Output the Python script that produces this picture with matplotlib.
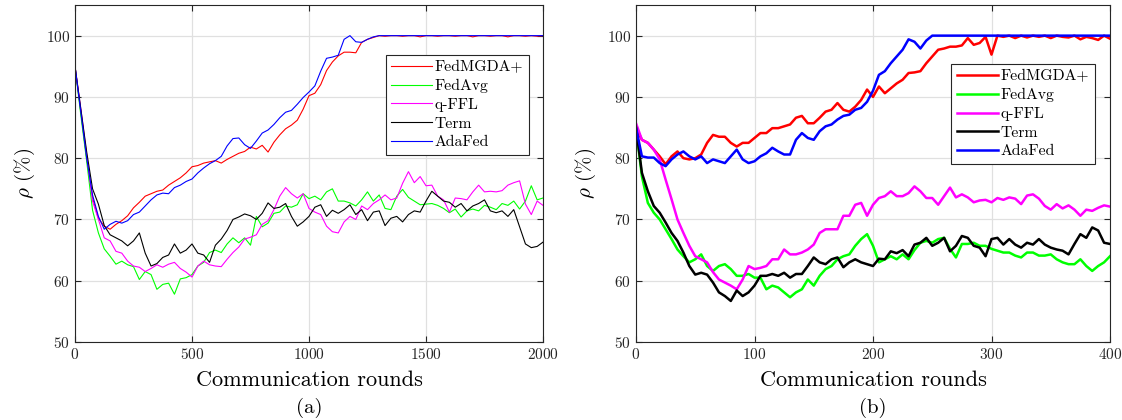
import numpy as np
import matplotlib
matplotlib.use("Agg")
import matplotlib.pyplot as plt

plt.rcParams["font.family"] = ["cmr10", "DejaVu Serif"]
plt.rcParams["mathtext.fontset"] = "cm"
plt.rcParams["axes.formatter.use_mathtext"] = True

labels = ["FedMGDA+", "FedAvg", "q-FFL", "Term", "AdaFed"]
colors = ["#ff0000", "#00ff00", "#ff00ff", "#000000", "#0000ff"]

# (a) 2000 rounds, values read every 25 rounds
rounds_a = np.arange(0, 2001, 25)
fedmgda_a = [95, 87.5, 80, 73.5, 70.2, 68.9, 68.4, 69.2, 69.8, 70.6, 71.9, 72.8, 73.8, 74.2, 74.6, 74.8,
             75.6, 76.2, 76.8, 77.6, 78.6, 78.8, 79.2, 79.4, 79.6, 79.2, 79.8, 80.3, 80.8, 81.1, 81.8, 81.5,
             82.1, 81.0, 82.6, 83.8, 84.8, 85.4, 86.2, 88.0, 90.2, 90.6, 92.0, 94.3, 95.7, 96.7, 97.3, 97.3,
             97.2, 98.9, 99.4, 99.7, 100, 99.9, 100, 100, 99.9, 100, 100, 99.8, 100, 100, 99.9, 100, 100, 99.9,
             100, 100, 99.8, 100, 100, 99.9, 100, 100, 99.8, 100, 100, 99.9, 100, 99.9, 100]
fedavg_a = [95, 87, 79.5, 71.5, 67.8, 65.2, 64, 62.7, 63.2, 62.6, 62.3, 60.2, 61.5, 61, 58.6, 59.4,
            59.6, 57.8, 60.3, 60.5, 61, 62.4, 63, 64.6, 65, 64.6, 66, 67, 66.2, 67, 65.8, 70.5,
            68.8, 69.4, 71, 71.2, 72.2, 72, 72.4, 74.2, 73.4, 73.8, 73.2, 74.5, 75, 73, 73, 72.7,
            72.2, 73.2, 74.5, 73, 74, 71.8, 71.6, 73.8, 74.9, 73.6, 73, 72.4, 72.5, 72.6, 72.3, 71.8,
            71.1, 71.7, 70.4, 71.4, 71.7, 71.4, 72.3, 72, 71.6, 72.6, 72.3, 73, 71.7, 73, 75.5, 73.2, 73.5]
qffl_a = [95, 88, 80.5, 73, 70, 67, 66.5, 64.8, 64.5, 63.2, 62.4, 62.2, 61.5, 62, 62.6, 62.2,
          62.7, 63, 62, 61.4, 60.6, 62.4, 63.2, 62.6, 62.4, 62.3, 63.5, 64.6, 65.5, 66.8, 67.1, 67.5,
          69.2, 69.8, 71.6, 73.8, 75.2, 74.2, 73.5, 74.2, 71.8, 71.2, 70.8, 68.9, 68, 67.8, 69.6, 70.5,
          70, 72.2, 71.6, 72.6, 73.2, 74, 73.2, 73.5, 75.9, 77.8, 76, 77, 75.5, 75.6, 73.8, 73.2,
          71.2, 73.5, 73.4, 73.2, 74.5, 75.6, 74.5, 74.6, 74.5, 74.7, 75.6, 76, 76.3, 72.5, 70.8, 73, 72.3]
term_a = [95, 88, 81, 75, 72.5, 69, 67.5, 67, 66.5, 65.7, 66.5, 67.8, 64.5, 62.4, 62.8, 63.8,
          64.2, 66, 64.5, 65, 66, 64.5, 64.2, 63, 65.8, 66.8, 68.2, 70, 70.4, 70.9, 70.6, 70,
          71, 72.7, 71.8, 72, 72.6, 70.5, 68.9, 69.6, 70.5, 72, 72.4, 70.5, 71.5, 71, 71.6, 72.4,
          70.8, 71.6, 69.8, 71.2, 71.4, 69, 70.2, 70.5, 69.6, 70.8, 71.4, 71.2, 73, 74.6, 73.8, 73,
          72.8, 72, 72.6, 71.4, 72.2, 72.6, 73.2, 71.4, 71.1, 71.4, 70.5, 71.6, 68.8, 66, 65.4, 65.6, 66.3]
adafed_a = [95, 87.5, 80, 74, 70.5, 68.4, 69.2, 69.7, 69.4, 69.8, 70.8, 71.2, 72.2, 73.2, 74, 74.3,
            74.2, 75.2, 75.6, 76.2, 76.6, 77.6, 78.4, 79.1, 79.6, 80.3, 82, 83.2, 83.3, 82.2, 81.6, 82.8,
            84.1, 84.6, 85.5, 86.6, 87.5, 87.8, 88.8, 89.9, 90.8, 91.8, 94.2, 96.3, 96.5, 96.8, 99.4, 100,
            99, 98.9, 99.4, 99.8, 100, 100, 100, 100, 100, 100, 100, 100, 100, 100, 100, 100,
            100, 100, 100, 100, 100, 100, 100, 100, 100, 100, 100, 100, 100, 100, 100, 100, 100]

# (b) 400 rounds, values read every 5 rounds
rounds_b = np.arange(0, 401, 5)
fedmgda_b = [85, 83, 82.5, 81.4, 80.3, 79, 80.3, 81.1, 80, 79.8, 80, 80.6, 82.5, 83.8, 83.5, 83.5,
             82.5, 81.9, 82.5, 82.5, 83.3, 84.1, 84.1, 84.9, 84.9, 85.2, 85.5, 86.6, 86.9, 85.7, 85.7, 86.6,
             87.6, 87.9, 89, 87.9, 87.6, 88.4, 89.5, 91.2, 90, 91.7, 90.6, 91.4, 92.2, 92.8, 93.9, 94,
             94.2, 95.5, 96.6, 97.7, 97.9, 98.2, 98.2, 98.4, 99.6, 98.5, 98.8, 99.8, 96.9, 100, 99.8, 100,
             99.6, 100, 99.7, 100, 99.8, 100, 99.6, 100, 99.8, 99.7, 100, 99.4, 99.8, 99.6, 99.3, 100, 99.5]
fedavg_b = [85, 77, 72.7, 71.1, 70, 68.4, 66.8, 65.1, 64, 63, 63.5, 64.3, 62.4, 61.6, 62.4, 62.7,
            61.9, 60.8, 60.8, 61.1, 60.5, 60.5, 58.6, 59.2, 58.9, 58.1, 57.3, 58.1, 58.6, 60.2, 59.2, 60.8,
            61.9, 62.4, 63.5, 64, 64.3, 65.7, 66.8, 67.6, 65.7, 63, 63.5, 64, 63.5, 64.3, 63.5, 65,
            66.2, 66.5, 66.2, 66.8, 67, 65.2, 63.8, 66, 66, 66.2, 65.7, 65.7, 65.2, 64.9, 64.6, 64.6,
            64.1, 63.8, 64.6, 64.6, 64.1, 64.1, 64.3, 63.5, 63, 62.7, 62.7, 63.5, 62.4, 61.6, 62.4, 63, 64]
qffl_b = [85.7, 83, 82.5, 81.4, 79.8, 76.5, 73.3, 70, 67.8, 65.7, 64, 63.5, 63, 61.4, 60.2, 59.7,
          59.2, 58.6, 60.2, 62.4, 61.9, 62.1, 62.4, 63.5, 63.5, 65.1, 64.3, 64.3, 64.6, 65.1, 65.9, 67.8,
          68.4, 68.4, 68.4, 70.6, 70.6, 72.4, 72.7, 70.6, 72.4, 73.5, 73.8, 74.6, 73.8, 73.8, 74.3, 75.4,
          74.6, 73.5, 73.5, 72.4, 73.8, 75.2, 73.6, 74.1, 73.6, 72.8, 73.1, 73.2, 72.8, 73.5, 73.2, 73.6,
          73.4, 72.5, 73.9, 74.1, 73.4, 72.2, 71.6, 72.5, 71.8, 72.3, 71.6, 70.6, 71.6, 71.4, 71.9, 72.3, 72.1]
term_b = [85, 77.6, 74.6, 72.2, 71.1, 69.5, 67.8, 66.5, 64.6, 62.4, 61, 61.3, 61, 59.7, 58.1, 57.5,
          56.7, 58.4, 57.5, 58.1, 59.2, 60.8, 60.8, 61.1, 60.8, 61.3, 60.5, 61.1, 61.1, 62.4, 63.8, 63,
          62.7, 63.5, 63.8, 62.2, 63, 63.5, 63, 62.7, 62.4, 63.6, 63.5, 64.8, 64.5, 65, 64, 65.9,
          66.2, 67, 65.7, 66.2, 67, 64.8, 65.7, 67.3, 67, 65.7, 65.4, 64, 66.8, 67, 65.9, 66.8,
          65.9, 65.4, 66.2, 65.9, 66.8, 65.9, 65.4, 65.1, 64.9, 64.3, 66, 67.6, 67, 68.7, 68.2, 66.2, 66]
adafed_b = [85, 80.3, 80.1, 80.1, 79.2, 78.7, 79.8, 80.6, 81.1, 80.3, 79.8, 80.3, 79.2, 79.8, 79.5, 79.2,
            80.3, 81.4, 79.8, 79.2, 79.5, 80.3, 80.8, 81.7, 81.1, 80.6, 80.6, 83, 84.1, 83.3, 83, 84.4,
            85.2, 85.5, 86.3, 86.9, 87.1, 87.9, 88.2, 89.2, 91, 93.6, 94.2, 95.5, 96.6, 97.7, 99.4, 99,
            97.9, 99.2, 100, 100, 100, 100, 100, 100, 100, 100, 100, 100, 100, 100, 100, 100,
            100, 100, 100, 100, 100, 100, 100, 100, 100, 100, 100, 100, 100, 100, 100, 100, 100]

fig = plt.figure(figsize=(11.22, 4.2), dpi=100)
ax_a = fig.add_axes([75 / 1122, 1 - 342 / 420, 468 / 1122, 337 / 420])
ax_b = fig.add_axes([636 / 1122, 1 - 342 / 420, 474 / 1122, 337 / 420])

panels = [
    (ax_a, rounds_a, [fedmgda_a, fedavg_a, qffl_a, term_a, adafed_a], 0.8, 2000, [0, 500, 1000, 1500, 2000], "(a)", (0.970, 0.852)),
    (ax_b, rounds_b, [fedmgda_b, fedavg_b, qffl_b, term_b, adafed_b], 1.8, 400, [0, 100, 200, 300, 400], "(b)", (0.968, 0.825)),
]

for ax, x, series, lw, xmax, xt, tag, anchor in panels:
    for y, lab, c in zip(series, labels, colors):
        ax.plot(x, y, color=c, lw=lw, label=lab)
    ax.set_xlim(0, xmax)
    ax.set_ylim(50, 105)
    ax.set_xticks(xt)
    ax.set_yticks([50, 60, 70, 80, 90, 100])
    ax.grid(True, color="#e0e0e0", lw=0.9)
    ax.set_axisbelow(True)
    ax.tick_params(direction="in", top=True, right=True, length=4, labelsize=11, colors="#262626")
    for s in ax.spines.values():
        s.set_color("#262626")
        s.set_linewidth(0.8)
    ax.set_xlabel("Communication rounds", fontsize=16, labelpad=6)
    ax.set_ylabel(r"$\rho$ (%)", fontsize=15, labelpad=6)
    ax.text(0.5, -0.165, tag, transform=ax.transAxes, ha="center", va="top", fontsize=15)
    leg = ax.legend(loc="upper right", bbox_to_anchor=anchor, fontsize=11.3, frameon=True,
                    fancybox=False, edgecolor="#262626", framealpha=1, handlelength=2.6,
                    handletextpad=0.2, borderpad=0.35, labelspacing=0.3, borderaxespad=0)
    leg.get_frame().set_linewidth(0.8)

fig.savefig("out.png", dpi=100)
